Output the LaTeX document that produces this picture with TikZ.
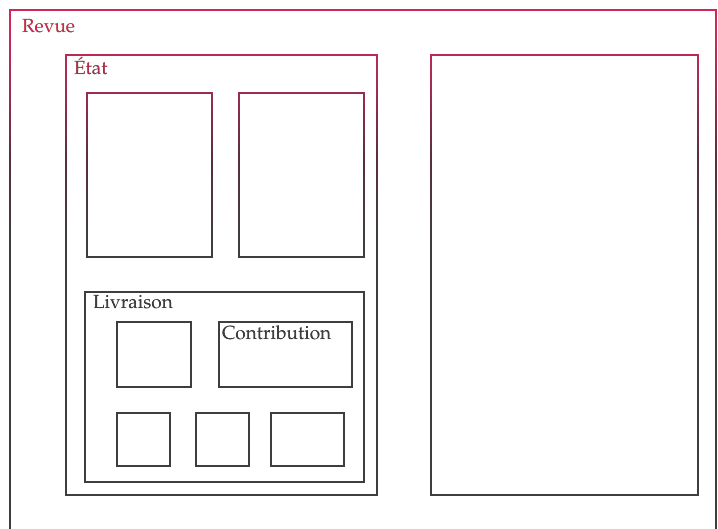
\documentclass[tikz,border=0pt]{standalone}
\usepackage[T1]{fontenc}
\usepackage{mathpazo}
\definecolor{inkred}{HTML}{CC2858}
\definecolor{inkmaroon}{HTML}{A02E50}
\definecolor{inkdark}{HTML}{5A2E3E}
\definecolor{inkgray}{HTML}{3E3E3E}
% ink colour fades from crimson at the top of the page to grey further down
\pgfdeclareverticalshading{inkfade}{100bp}{%
  color(0bp)=(inkgray); color(52bp)=(inkgray); color(60bp)=(inkdark);
  color(67bp)=(inkmaroon); color(72bp)=(inkred); color(100bp)=(inkred)}
\begin{document}
\begin{tikzpicture}[x=1pt,y=-1pt,
  box/.style={draw=black, line width=1.5pt, inner sep=0pt, outer sep=0pt,
    anchor=north west},
  title/.style={anchor=base west, inner sep=0pt, outer sep=0pt,
    font=\fontsize{19}{22}\selectfont}]
\useasboundingbox (0,0) rectangle (718,529);
\fill[white] (0,0) rectangle (718,529);

% outer frame
\node[box, minimum width=706pt, minimum height=540pt] (revue) at (10,10) {};
\node[title] (revuetitle) at ([shift={(12,23)}]revue.north west) {Revue};

% left column
\node[box, minimum width=311pt, minimum height=440pt] (etat) at (66,55) {};
\node[title] (etattitle) at ([shift={(8,20)}]etat.north west) {\'Etat};
\node[box, minimum width=125pt, minimum height=164pt] (etatA) at (87,93) {};
\node[box, minimum width=125pt, minimum height=164pt] (etatB) at (239,93) {};

\node[box, minimum width=279pt, minimum height=190pt] (livraison) at (85,292) {};
\node[title] (livraisontitle) at ([shift={(8,17)}]livraison.north west) {Livraison};
\node[box, minimum width=74pt, minimum height=65pt] (livA) at (117,322) {};
\node[box, minimum width=133pt, minimum height=65pt] (contribution) at (219,322) {};
\node[title] (contribtitle) at ([shift={(3,18)}]contribution.north west) {Contribution};
\node[box, minimum width=53pt, minimum height=53pt] (livB) at (117,413) {};
\node[box, minimum width=53pt, minimum height=53pt] (livC) at (196,413) {};
\node[box, minimum width=73pt, minimum height=53pt] (livD) at (271,413) {};

% right column
\node[box, minimum width=267pt, minimum height=440pt] (droite) at (431,55) {};

% tint the black ink
\begin{scope}[blend mode=lighten]
  \shade[shading=inkfade] (0,0) rectangle (718,529);
\end{scope}
\end{tikzpicture}
\end{document}
